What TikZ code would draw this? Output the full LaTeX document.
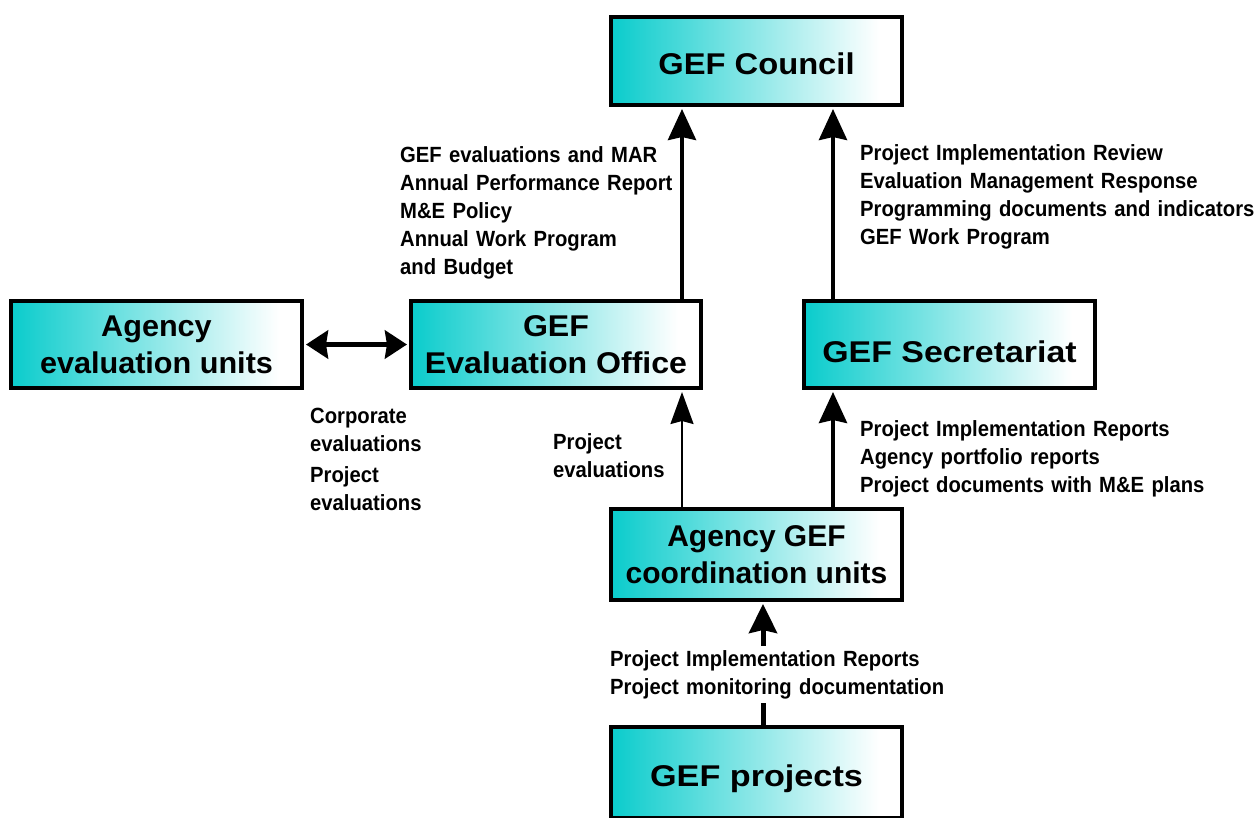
\documentclass[tikz,border=0pt]{standalone}
\usepackage{fontspec}
\usepackage{graphicx}
\setmainfont{Liberation Sans}
\newfontfamily\labfont[FakeStretch=0.92]{Liberation Sans Bold}
\usetikzlibrary{arrows.meta}
\definecolor{tealA}{RGB}{10,204,204}
\pgfdeclarehorizontalshading{boxshade}{100bp}{color(0bp)=(tealA); color(25bp)=(tealA); color(71bp)=(white); color(100bp)=(white)}
\newcommand{\hs}[2]{\scalebox{#1}[1]{#2}}
\begin{document}
\begin{tikzpicture}[x=1pt,y=-1pt,
  box/.style={draw=black, line width=4pt, shading=boxshade, minimum width=291pt, minimum height=88pt,
    inner sep=0pt, align=center, font=\fontsize{30}{37}\selectfont\bfseries},
  lab/.style={inner sep=0pt, anchor=base west, text width=420pt, align=left,
    font=\labfont\fontsize{22}{28}\selectfont},
  thickarrow/.style={line width=4pt, -{Stealth[width=28pt,length=31pt,inset=3pt]}, shorten >=2pt},
  thinarrow/.style={line width=2pt, -{Stealth[width=23pt,length=32pt,inset=3pt]}, shorten >=2pt},
  projarrow/.style={line width=5pt, -{Stealth[width=28pt,length=29pt,inset=3pt]}, shorten >=2pt},
  dblarrow/.style={line width=5pt, {Stealth[width=28pt,length=22pt,inset=2pt]}-{Stealth[width=28pt,length=22pt,inset=2pt]}, shorten >=2pt, shorten <=2pt}
]
\clip (0,0) rectangle (1258,817);
\fill[white] (0,0) rectangle (1258,817);

\node[box, text height=26pt, text depth=0pt] (council) at (756.5,61) {\hs{1.09}{GEF Council}};
\node[box, minimum height=87pt] (agency) at (156.5,344.5) {\hs{1.02}{Agency}\\\hs{1.02}{evaluation units}};
\node[box, minimum height=87pt, minimum width=290pt] (evo) at (556,344.5) {\hs{1.07}{GEF}\\\hs{1.07}{Evaluation Office}};
\node[box, minimum height=87pt, text height=35pt, text depth=0pt] (sec) at (949.5,344.5) {\hs{1.13}{GEF Secretariat}};
\node[box, minimum height=91pt] (coord) at (756.5,554.5) {Agency GEF\\coordination units};
\node[box, minimum height=91pt, text height=28pt, text depth=0pt] (proj) at (756.5,772) {\hs{1.14}{GEF projects}};

\coordinate (xa) at (682,0);
\coordinate (xb) at (833,0);
\coordinate (xd) at (763,0);

\draw[thickarrow] (evo.north -| xa) -- (council.south -| xa);
\draw[thickarrow] (sec.north -| xb) -- (council.south -| xb);
\draw[thinarrow] (coord.north -| xa) -- (evo.south -| xa);
\draw[thickarrow] (coord.north -| xb) -- (sec.south -| xb);
\draw[projarrow] (proj.north -| xd) -- (coord.south -| xd);
\draw[dblarrow] (agency.east) -- (evo.west);

\node[lab] (l1) at (400,162) {GEF evaluations and MAR\\Annual Performance Report\\M\&E Policy\\Annual Work Program\\and Budget};
\node[lab] (r1) at (860,160) {Project Implementation Review\\Evaluation Management Response\\Programming documents and indicators\\GEF Work Program};
\node[lab] (r2) at (860,436) {Project Implementation Reports\\Agency portfolio reports\\Project documents with M\&E plans};
\node[lab] (c1) at (310,423) {Corporate\\evaluations};
\node[lab] (c2) at (310,482) {Project\\evaluations};
\node[lab] (pe) at (553,449) {Project\\evaluations};
\node[lab, fill=white, inner sep=4pt, text width=340pt] (b1) at (606,666) {Project Implementation Reports\\Project monitoring documentation};
\end{tikzpicture}
\end{document}
